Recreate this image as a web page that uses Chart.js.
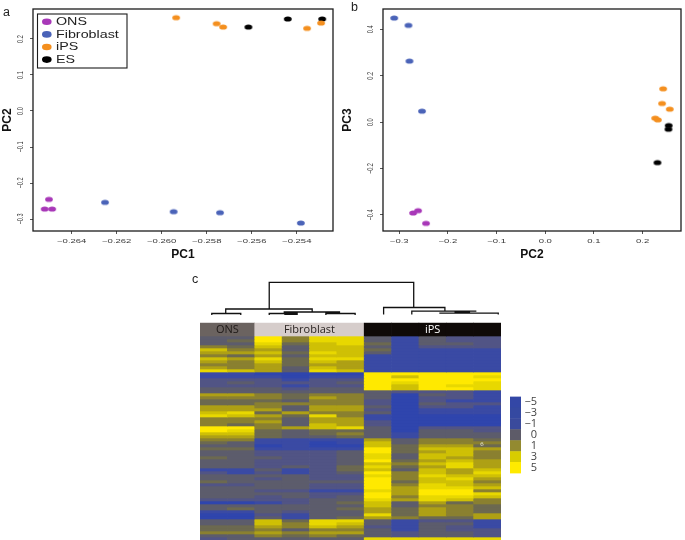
<!DOCTYPE html>
<html>
<head>
<meta charset="utf-8">
<script src="https://cdn.jsdelivr.net/npm/chart.js@4/dist/chart.umd.min.js"></script>
<style>
html,body{margin:0;padding:0;background:#fff;width:685px;height:540px;overflow:hidden}
canvas{position:absolute;filter:blur(0.45px)}
</style>
</head>
<body>
<canvas id="pa" width="340" height="265" style="left:0;top:0"></canvas>
<canvas id="pb" width="345" height="265" style="left:340px;top:0"></canvas>
<canvas id="pc" width="320" height="270" style="left:190px;top:270px"></canvas>
<canvas id="pk" width="37" height="90" style="left:500px;top:390px"></canvas>
<script>
// ---- series names and colours
const seriesNames = ["ONS","Fibroblast","iPS","ES"];
const seriesColors = ["#a838b8","#4a63b8","#f48f1e","#000000"];

// ---- panel a: PC1 / PC2
const a_ONS_x = [-0.26501,-0.26520,-0.26487];
const a_ONS_y = [-0.2454,-0.2722,-0.2722];
const a_Fib_x = [-0.26252,-0.25947,-0.25741,-0.25382];
const a_Fib_y = [-0.2537,-0.2796,-0.2824,-0.3111];
const a_iPS_x = [-0.25936,-0.25756,-0.25727,-0.25354,-0.25292];
const a_iPS_y = [0.2593,0.2426,0.2333,0.2296,0.2444];
const a_ES_x = [-0.25615,-0.25440,-0.25287];
const a_ES_y = [0.2333,0.2556,0.2556];
const a_xTicks = [-0.264,-0.262,-0.260,-0.258,-0.256,-0.254];
const a_yTicks = [-0.3,-0.2,-0.1,0,0.1,0.2];

// ---- panel b: PC2 / PC3
const b_ONS_x = [-0.2714,-0.2612,-0.2449];
const b_ONS_y = [-0.3914,-0.3813,-0.4360];
const b_Fib_x = [-0.3102,-0.2810,-0.2789,-0.2531];
const b_Fib_y = [0.4489,0.4173,0.2633,0.0475];
const b_iPS_x = [0.2422,0.2401,0.2558,0.2259,0.2313];
const b_iPS_y = [0.1439,0.0806,0.0561,0.0173,0.0101];
const b_ES_x = [0.2537,0.2531,0.2306];
const b_ES_y = [-0.0144,-0.0302,-0.1741];
const b_xTicks = [-0.3,-0.2,-0.1,0,0.1,0.2];
const b_yTicks = [-0.4,-0.2,0,0.2,0.4];

// ---- panel c: heat map, one string per row, one digit per sample (0 blue .. 9 yellow)
const heatSamples = ["ONS1","ONS2","F1","F2","F3","F4","iPS1","iPS2","iPS3","iPS4","iPS5"];
const heatLevels = ["#2f45ad","#3a4aa4","#515485","#5c5c6c","#6c6950","#8a8030","#aea015","#cfc005","#e8d800","#ffe900"];
const heatRows = [
"33958831322","34958831322","33847841332","54737731222","75637741111","66748731111",
"54637711111","76848811111","65747611111","55646611111","65637611111","87638711111",
"11000099999","11101197998","22212299999","23222398998","22212297988","33323397998",
"33333332221",
"66545530321","55546530221","44435520211","44555520322","66536630221","66636620111",
"78465530111","87648510000","55536610000","55636620000","54537620000","99567830222",
"98434430332","77434531333","66433431333","55111163554","43110173555","33010074664",
"44111194776","33222394675","33222383775","43322383765","33222394676","33222375786",
"33232484686","11312473767","21212395768","33332285877","33232295786","43333394775",
"22332295876","33332296887","33221186995","33332296998","33232395887","22223386875",
"00123473645","33333373554","34333464654","11323364654","00213384656","00313465446",
"33748831221","33758731331","44657621321","44535531322","55656632332","33545432332","23333388888"
];
const headerGroups = ["ONS","Fibroblast","iPS"];
const headerSpan = [[0,2],[2,6],[6,11]];
const headerColors = ["#6b6360","#d6cdcb","#0f0a08"];
const headerText = ["#1f1a18","#2a2422","#ffffff"];

// ---- dendrogram: column units across, heat-row units down, null breaks a stroke
const dendroX = [
 2.53,2.53,7.81,7.81,null,
 0.94,0.94,4.10,4.10,null,
 0.43,0.43,1.49,1.49,null,
 2.53,2.53,3.55,3.55,null,
 3.08,3.08,5.12,null,
 3.08,3.55,null,
 4.60,4.60,5.67,5.67,null,
 4.60,5.12,null,
 6.71,6.71,8.95,8.95,null,
 7.74,7.74,10.10,null,
 8.77,8.77,10.90,10.90,null,
 9.30,9.87
];
const dendroY = [
 -9.0,-17.9,-17.9,-9.5,null,
 -7.5,-9.0,-9.0,-8.0,null,
 -7.0,-7.5,-7.5,-7.0,null,
 -7.0,-7.5,-7.5,-7.0,null,
 -7.5,-8.0,-8.0,null,
 -7.2,-7.2,null,
 -7.0,-7.5,-7.5,-7.0,null,
 -7.9,-7.9,null,
 -7.2,-9.5,-9.5,-8.3,null,
 -7.2,-8.3,-8.3,null,
 -7.4,-7.6,-7.6,-7.2,null,
 -7.9,-7.9
];

// ---- colour key
const keyLabels = ["\u22125","\u22123","\u22121","0","1","3","5"];
const keyColors = ["#3347a6","#3549a1","#3a4a9c","#5d5b68","#938a30","#d8cc00","#ffea00"];

// ---- helpers
function ellipse(color,rx,ry){
  const c=document.createElement("canvas");
  c.width=Math.ceil(rx*2)+2;c.height=Math.ceil(ry*2)+2;
  const g=c.getContext("2d");
  g.fillStyle=color;g.beginPath();
  g.ellipse(c.width/2,c.height/2,rx,ry,0,0,Math.PI*2);g.fill();
  return c;
}
function pts(xs,ys){return xs.map((x,i)=>({x:x,y:ys[i]}));}
const FONT='"Liberation Sans",Arial,sans-serif';

function stretchText(ctx,text,x,y,rot,font,sx,color,align,base){
  ctx.save();
  ctx.translate(x,y);ctx.scale(sx,1);ctx.rotate(rot);
  ctx.font=font;ctx.fillStyle=color;ctx.textAlign=align||"center";ctx.textBaseline=base||"middle";
  ctx.fillText(text,0,0);
  ctx.restore();
}

const framePlugin={
  id:"frame",
  afterDraw(chart,args,o){
    const c=chart.ctx,a=chart.chartArea;
    c.save();
    c.strokeStyle="#1c1c1c";c.lineWidth=1.3;
    c.strokeRect(a.left,a.top,a.right-a.left,a.bottom-a.top);
    c.restore();
    // tick labels, horizontally stretched like the source figure
    const sx=chart.scales.x,sy=chart.scales.y;
    sx.ticks.forEach(t=>{
      stretchText(c,t.label,sx.getPixelForValue(t.value),a.bottom+10.5,0,"5.6px "+FONT,1.7,"#3a3a3a");
    });
    sy.ticks.forEach(t=>{
      stretchText(c,t.label,a.left-12.5,sy.getPixelForValue(t.value),-Math.PI/2,"5.6px "+FONT,1.55,"#3a3a3a");
    });
    // panel letter
    c.save();c.font="12.5px "+FONT;c.fillStyle="#222";c.textBaseline="alphabetic";
    c.fillText(o.letter,o.lx,o.ly);c.restore();
    // legend
    if(o.legend){
      c.save();
      const bx=37.5,by=14,bw=89.5,bh=54;
      c.fillStyle="#fff";c.fillRect(bx,by,bw,bh);
      c.strokeStyle="#1c1c1c";c.lineWidth=1.1;c.strokeRect(bx,by,bw,bh);
      seriesNames.forEach((n,i)=>{
        const y=21.8+i*12.6;
        c.fillStyle=seriesColors[i];
        c.beginPath();c.ellipse(46.8,y,4.8,3.3,0,0,Math.PI*2);c.fill();
        stretchText(c,n,56,y+0.3,0,"11px "+FONT,1.3,"#222","left");
      });
      c.restore();
    }
  }
};

function scatter(id,sets,xr,yr,xt,yt,xTitle,yTitle,fmtX,fmtY,pad,titleX,titleY,letter,legend){
  new Chart(document.getElementById(id),{
    type:"scatter",
    data:{datasets:sets.map((s,i)=>({
      label:seriesNames[i],data:s,pointStyle:ellipse(seriesColors[i],3.9,2.6),
      pointRadius:4,pointHoverRadius:4,backgroundColor:seriesColors[i],borderWidth:0
    }))},
    plugins:[framePlugin],
    options:{
      responsive:false,animation:false,devicePixelRatio:1,
      layout:{padding:pad},
      plugins:{legend:{display:false},tooltip:{enabled:false},
        frame:{letter:letter.t,lx:letter.x,ly:letter.y,legend:legend}},
      scales:{
        x:{type:"linear",min:xr[0],max:xr[1],
          afterBuildTicks:s=>{s.ticks=xt.map(v=>({value:v}));},
          afterFit:s=>{s.height=34;},
          grid:{drawOnChartArea:false,drawTicks:true,tickLength:3,color:"#555"},border:{display:false},
          ticks:{display:false,callback:fmtX},
          title:{display:true,text:xTitle,font:{family:FONT,size:12,weight:"bold"},color:"#111",padding:titleX}},
        y:{type:"linear",min:yr[0],max:yr[1],
          afterBuildTicks:s=>{s.ticks=yt.map(v=>({value:v}));},
          afterFit:s=>{s.width=pad.yw;},
          grid:{drawOnChartArea:false,drawTicks:true,tickLength:3,color:"#555"},border:{display:false},
          ticks:{display:false,callback:fmtY},
          title:{display:true,text:yTitle,font:{family:FONT,size:12,weight:"bold"},color:"#111",padding:titleY}}
      }
    }
  });
}
const minus=s=>s.replace("-","\u2212");

scatter("pa",
  [pts(a_ONS_x,a_ONS_y),pts(a_Fib_x,a_Fib_y),pts(a_iPS_x,a_iPS_y),pts(a_ES_x,a_ES_y)],
  [-0.26572,-0.25239],[-0.3333,0.2833],a_xTicks,a_yTicks,"PC1","PC2",
  v=>minus(v.toFixed(3)),v=>minus(v.toFixed(1)),
  {left:0,top:9,right:7,bottom:0,yw:33},{top:0,bottom:3},{top:0,bottom:0},
  {t:"a",x:3,y:16},true);

scatter("pb",
  [pts(b_ONS_x,b_ONS_y),pts(b_Fib_x,b_Fib_y),pts(b_iPS_x,b_iPS_y),pts(b_ES_x,b_ES_y)],
  [-0.3333,0.2789],[-0.469,0.4878],b_xTicks,b_yTicks,"PC2","PC3",
  v=>minus(v.toFixed(1)),v=>minus(v.toFixed(1)),
  {left:0,top:9,right:2,bottom:0,yw:43},{top:0,bottom:3},{top:0,bottom:7},
  {t:"b",x:11,y:11},false);

// ---- heat map
const nCols=heatSamples.length, nRows=heatRows.length;
const heatSets=heatRows.map((row,r)=>({
  type:"bar",label:"row"+r,grouped:false,
  data:heatSamples.map(()=>[r,r+1]),
  backgroundColor:heatSamples.map((_,c)=>heatLevels[+row[c]]),
  borderWidth:0,barPercentage:1,categoryPercentage:1,xAxisID:"x",yAxisID:"y",order:2
}));
const headerColOf=c=>headerSpan.findIndex(s=>c>=s[0]&&c<s[1]);
const headerSet={
  type:"bar",label:"header",grouped:false,
  data:heatSamples.map(()=>[-4.3,0]),
  backgroundColor:heatSamples.map((_,c)=>headerColors[headerColOf(c)]),
  borderWidth:0,barPercentage:1,categoryPercentage:1,xAxisID:"x",yAxisID:"y",order:2
};
const dendroSet={
  type:"scatter",label:"dendrogram",
  data:dendroX.map((x,i)=>({x:x===null?NaN:x,y:dendroY[i]===null?NaN:dendroY[i]})),
  showLine:true,spanGaps:false,borderColor:"#111",borderWidth:1.3,pointRadius:0,
  xAxisID:"x2",yAxisID:"y",order:1,clip:false
};
const heatLabels={
  id:"heatLabels",
  afterDraw(chart){
    const c=chart.ctx,sx=chart.scales.x2,sy=chart.scales.y;
    c.save();
    c.font='11px "Open Sans",sans-serif';c.textAlign="center";c.textBaseline="middle";
    headerGroups.forEach((g,i)=>{
      c.fillStyle=headerText[i];
      const m=(headerSpan[i][0]+headerSpan[i][1])/2;
      c.fillText(g,sx.getPixelForValue(m),sy.getPixelForValue(-2.1));
    });
    c.font='6px "Open Sans",sans-serif';c.fillStyle="#f0f0e8";
    c.fillText("6",sx.getPixelForValue(10.3),sy.getPixelForValue(36.2));
    c.font="12.5px "+FONT;c.fillStyle="#222";c.textAlign="left";c.textBaseline="alphabetic";
    c.fillText("c",2,13);
    c.restore();
  }
};
new Chart(document.getElementById("pc"),{
  data:{labels:heatSamples,datasets:[dendroSet,headerSet].concat(heatSets)},
  plugins:[heatLabels],
  options:{
    responsive:false,animation:false,devicePixelRatio:1,
    layout:{padding:{left:10,right:9,top:2,bottom:0}},
    plugins:{legend:{display:false},tooltip:{enabled:false}},
    scales:{
      x:{type:"category",display:false,stacked:true,offset:true},
      x2:{type:"linear",display:false,min:0,max:nCols},
      y:{type:"linear",display:false,reverse:true,min:-21.33,max:68}
    }
  }
});

// ---- colour key
new Chart(document.getElementById("pk"),{
  type:"bar",
  data:{labels:keyLabels,datasets:[{data:keyLabels.map(()=>1),backgroundColor:keyColors,
    barPercentage:1,categoryPercentage:1,borderWidth:0}]},
  options:{
    indexAxis:"y",responsive:false,animation:false,devicePixelRatio:1,
    layout:{padding:{left:10,right:0,top:5,bottom:4}},
    plugins:{legend:{display:false},tooltip:{enabled:false}},
    scales:{
      x:{display:false,min:0,max:1},
      y:{position:"right",afterFit:s=>{s.width=16;},grid:{display:false},border:{display:false},
        ticks:{autoSkip:false,crossAlign:"far",padding:0,color:"#444",font:{family:'"Open Sans",sans-serif',size:11}}}
    }
  }
});
</script>
</body>
</html>
